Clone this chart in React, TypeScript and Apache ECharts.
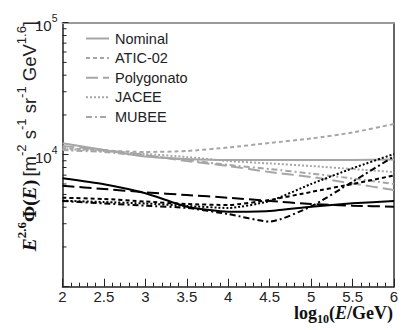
import React, { useEffect, useRef } from "react";
import * as echarts from "echarts";

const xs = [2, 2.5, 3, 3.5, 4, 4.5, 5, 5.5, 6];
const xTickLabels = ["2", "2.5", "3", "3.5", "4", "4.5", "5", "5.5", "6"];
const legendNames = ["Nominal", "ATIC-02", "Polygonato", "JACEE", "MUBEE"];

const grayNominal = [12200, 10850, 9690, 9280, 9120, 9120, 9120, 9120, 9200];
const grayATIC = [11240, 10760, 10480, 10670, 11340, 12260, 13270, 14730, 17090];
const grayPolygonato = [11640, 10850, 9950, 8960, 8210, 7390, 6780, 6050, 5400];
const grayJACEE = [11050, 10670, 10120, 9610, 8960, 8580, 8210, 7790, 7390];
const grayMUBEE = [10850, 10480, 9780, 9120, 8360, 7790, 7200, 6600, 6000];

const blackNominal = [6620, 5970, 5100, 4040, 3700, 3750, 4040, 4280, 4460];
const blackATIC = [4720, 4620, 4420, 4230, 4160, 4540, 5220, 6000, 6960];
const blackPolygonato = [5820, 5500, 5190, 4950, 4720, 4460, 4230, 4110, 4040];
const blackJACEE = [4480, 4380, 4270, 4090, 3950, 4460, 6000, 7890, 10120];
const blackMUBEE = [4460, 4270, 4110, 3950, 3550, 3110, 4060, 6240, 9720];

const yMinorTicks = [2000, 3000, 4000, 5000, 6000, 7000, 8000, 9000, 20000, 30000, 40000, 50000, 60000, 70000, 80000, 90000];

const GRAY = "#a6a6a6";
const BLACK = "#000000";
const SANS = "'Liberation Sans', Arial, Helvetica, sans-serif";
const SERIF = "'Liberation Serif', 'Times New Roman', serif";

const dashTypes: any[] = ["solid", [4, 3], [12, 5], [2, 2], [6, 3, 2, 3]];

function lineSeries(name: string, values: number[], color: string, dash: any) {
  return {
    name,
    type: "line",
    data: xs.map((x, i) => [x, values[i]]),
    symbol: "none",
    smooth: 0.2,
    lineStyle: { color, width: 2, type: dash },
    itemStyle: { color },
    z: 3,
  };
}

export default function App() {
  const ref = useRef<HTMLDivElement>(null);
  useEffect(() => {
    if (!ref.current) return;
    const chart = echarts.init(ref.current, undefined, { renderer: "svg" });
    const grays = [grayNominal, grayATIC, grayPolygonato, grayJACEE, grayMUBEE];
    const blacks = [blackNominal, blackATIC, blackPolygonato, blackJACEE, blackMUBEE];
    const series: any[] = [];
    grays.forEach((g, i) => series.push(lineSeries(legendNames[i], g, GRAY, dashTypes[i])));
    blacks.forEach((b, i) => series.push(lineSeries(legendNames[i] + " (2)", b, BLACK, dashTypes[i])));
    series.push({
      type: "custom",
      name: "minor",
      coordinateSystem: "cartesian2d",
      data: yMinorTicks.map((v) => [2, v]),
      encode: { x: 0, y: 1 },
      silent: true,
      z: 5,
      renderItem: (params: any, api: any) => {
        const p = api.coord([api.value(0), api.value(1)]);
        return {
          type: "line",
          shape: { x1: p[0], y1: p[1], x2: p[0] + 4, y2: p[1] },
          style: { stroke: "#222", lineWidth: 1 },
        };
      },
    });

    const legendGraphics: any[] = [];
    legendNames.forEach((name, i) => {
      const y = 38.5 + i * 19.6;
      const dash = dashTypes[i];
      legendGraphics.push({
        type: "line",
        shape: { x1: 86, y1: y, x2: 109, y2: y },
        style: { stroke: GRAY, lineWidth: 2, lineDash: dash === "solid" ? null : dash },
        silent: true,
      });
      legendGraphics.push({
        type: "text",
        x: 115,
        y,
        style: { text: name, verticalAlign: "middle", align: "left", fontSize: 14.5, fill: "#222", fontFamily: SANS },
        silent: true,
      });
    });

    chart.setOption({
      animation: false,
      backgroundColor: "#ffffff",
      grid: { left: 62.5, right: 21, top: 22.7, bottom: 43.3, containLabel: false },
      xAxis: [
        {
          type: "value",
          min: 2,
          max: 6,
          interval: 0.5,
          position: "bottom",
          axisLine: { show: true, lineStyle: { color: "#222", width: 1.5 } },
          axisTick: { show: true, inside: true, length: 8, lineStyle: { color: "#222" } },
          minorTick: { show: true, splitNumber: 5, length: 4, lineStyle: { color: "#222" } },
          splitLine: { show: false },
          axisLabel: {
            margin: 2,
            fontSize: 15,
            lineHeight: 15,
            color: "#222",
            fontFamily: SANS,
            formatter: (v: number) => {
              const i = xs.indexOf(v);
              return i >= 0 ? xTickLabels[i] : "";
            },
          },
        },
        {
          type: "value",
          min: 2,
          max: 6,
          position: "top",
          axisLine: { show: true, lineStyle: { color: "#999", width: 2 } },
          axisTick: { show: false },
          axisLabel: { show: false },
          splitLine: { show: false },
        },
      ],
      yAxis: [
        {
          type: "log",
          logBase: 10,
          min: 1000,
          max: 100000,
          position: "left",
          axisLine: { show: true, lineStyle: { color: "#222", width: 1.5 } },
          axisTick: { show: true, inside: true, length: 6, lineStyle: { color: "#222" } },
          splitLine: { show: false },
          axisLabel: {
            margin: 5,
            color: "#222",
            fontFamily: SANS,
            formatter: (v: number) => {
              if (Math.abs(v - 10000) < 1) return "{a|10}{s|4}";
              if (Math.abs(v - 100000) < 1) return "{a|10}{s|5}";
              return "";
            },
            rich: {
              a: { fontSize: 15, lineHeight: 20, verticalAlign: "bottom", fontFamily: SANS, color: "#222" },
              s: { fontSize: 10.5, lineHeight: 12, verticalAlign: "top", fontFamily: SANS, color: "#222" },
            },
          },
        },
        {
          type: "log",
          logBase: 10,
          min: 1000,
          max: 100000,
          position: "right",
          axisLine: { show: true, lineStyle: { color: "#333", width: 1.5 } },
          axisTick: { show: false },
          axisLabel: { show: false },
          splitLine: { show: false },
        },
      ],
      graphic: [
        ...legendGraphics,
        {
          type: "text",
          x: 27,
          y: 21,
          rotation: Math.PI / 2,
          silent: true,
          style: {
            text: "{bi|E}{bs|2.6}{b|Φ(}{bi|E}{b|)} {n|[m}{s|-2}{n| s}{s|-1}{n| sr}{s|-1}{n| GeV}{s|1.6}{n|]}",
            align: "right",
            verticalAlign: "middle",
            rich: {
              bi: { fontFamily: SERIF, fontWeight: "bold", fontStyle: "italic", fontSize: 19.5, lineHeight: 24, verticalAlign: "bottom", fill: "#111" },
              b: { fontFamily: SERIF, fontWeight: "bold", fontSize: 19.5, lineHeight: 24, verticalAlign: "bottom", fill: "#111" },
              bs: { fontFamily: SERIF, fontWeight: "bold", fontSize: 13, lineHeight: 13, verticalAlign: "top", fill: "#111" },
              n: { fontFamily: SANS, fontSize: 18.5, lineHeight: 22, verticalAlign: "bottom", fill: "#222" },
              s: { fontFamily: SANS, fontSize: 13, lineHeight: 13, verticalAlign: "top", fill: "#222" },
            },
          },
        },
        {
          type: "text",
          x: 393,
          y: 304,
          silent: true,
          style: {
            text: "{b|log}{bsub|10}{b|(}{bi|E}{b|/GeV)}",
            align: "right",
            verticalAlign: "top",
            rich: {
              b: { fontFamily: SERIF, fontWeight: "bold", fontSize: 18, lineHeight: 18, verticalAlign: "top", fill: "#111" },
              bi: { fontFamily: SERIF, fontWeight: "bold", fontStyle: "italic", fontSize: 18, lineHeight: 18, verticalAlign: "top", fill: "#111" },
              bsub: { fontFamily: SERIF, fontWeight: "bold", fontSize: 12, lineHeight: 12, padding: [9, 0, 0, 0], verticalAlign: "top", fill: "#111" },
            },
          },
        },
      ],
      series,
    });
    return () => chart.dispose();
  }, []);
  return <div ref={ref} style={{ position: "fixed", left: 0, top: 0, width: 415, height: 330 }} />;
}
